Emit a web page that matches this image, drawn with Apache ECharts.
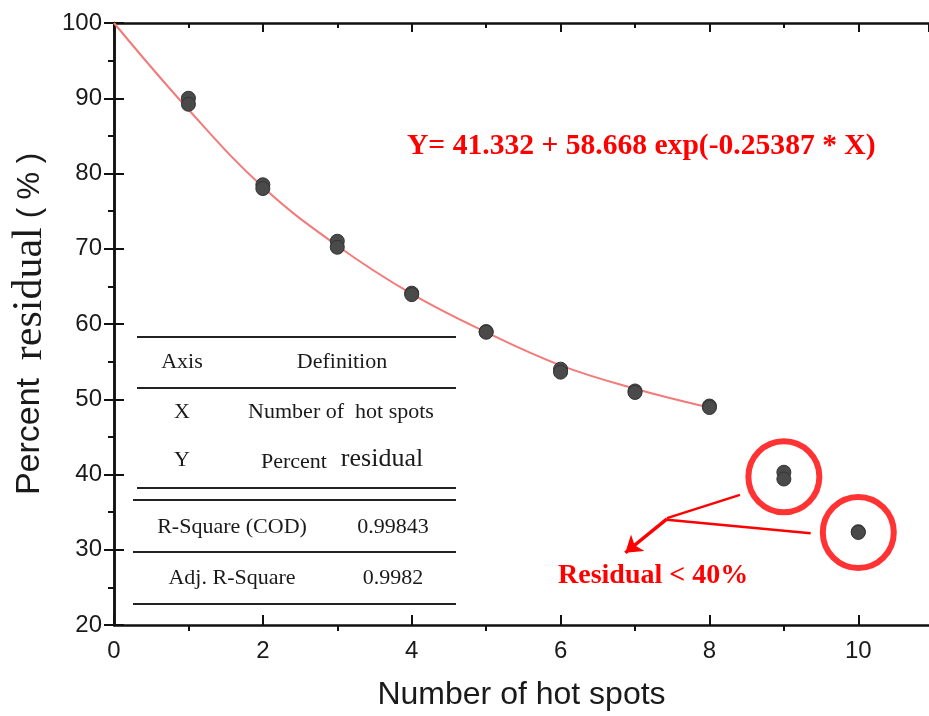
<!DOCTYPE html>
<html><head><meta charset="utf-8">
<script src="https://cdn.jsdelivr.net/npm/echarts@6/dist/echarts.min.js"></script>
<style>html,body{margin:0;padding:0;background:#fff}#c{width:929px;height:716px}</style>
</head><body><div id="c"></div>
<script>
// ---- data ----
const spotsX    = [1, 1, 2, 2, 3, 3, 4, 4, 5, 5, 6, 6, 7, 7, 8, 8, 9, 9, 10, 10];
const residualY = [90.0, 89.2, 78.5, 78.0, 71.0, 70.2, 64.1, 63.9, 59.0, 58.9, 54.0, 53.6, 51.1, 50.9, 49.1, 48.9, 40.3, 39.4, 32.4, 32.3];
const fitX      = [0, 1, 2, 3, 4, 5, 6, 7, 8];
const fitY      = [100, 88.5, 78.2, 70.4, 64.0, 58.9, 54.5, 51.4, 48.9];
const outlierX  = [9, 10];
const outlierY  = [39.7, 32.3];
const xMinorTicks = [1, 3, 5, 7, 9];
const yMinorTicks = [25, 35, 45, 55, 65, 75, 85, 95];
const equationText = 'Y= 41.332 + 58.668 exp(-0.25387 * X)';
const noteText = 'Residual < 40%';
const tableHeader = ['Axis', 'Definition'];
const tableDefs = [['X', 'Number of  hot spots'], ['Y', 'Percent', 'residual']];
const tableStats = [['R-Square (COD)', '0.99843'], ['Adj. R-Square', '0.9982']];

const SANS = '"Liberation Sans", Arial, sans-serif';
const SERIF = '"Liberation Serif", "Times New Roman", serif';
const INK = '#1a1a1a';

const pts = spotsX.map((x, i) => [x, residualY[i]]);
const fit = fitX.map((x, i) => [x, fitY[i]]);
const outl = outlierX.map((x, i) => [x, outlierY[i]]);

// table graphics (pixel layout)
const g = [];
function hline(y, x1, x2) {
  g.push({type: 'line', shape: {x1: x1, y1: y, x2: x2, y2: y}, style: {stroke: '#222', lineWidth: 2}, z: 10});
}
function txt(x, y, t, size, align) {
  g.push({type: 'text', x: x, y: y, style: {text: t, font: size + 'px ' + SERIF, fill: INK, align: align || 'center', verticalAlign: 'middle'}, z: 10});
}
hline(337, 137, 456);
hline(388, 137, 456);
hline(488, 137, 456);
hline(500, 133, 456);
hline(552, 133, 456);
hline(604, 133, 456);
txt(182, 362, tableHeader[0], 22);
txt(342, 362, tableHeader[1], 22);
txt(182, 412, tableDefs[0][0], 22);
txt(341, 412, tableDefs[0][1], 22);
txt(182, 460, tableDefs[1][0], 22);
txt(294, 462, tableDefs[1][1], 22);
txt(382, 459, tableDefs[1][2], 26);
txt(232, 527, tableStats[0][0], 22);
txt(393, 527, tableStats[0][1], 22);
txt(232, 578, tableStats[1][0], 22);
txt(393, 578, tableStats[1][1], 22);
g.push({type: 'text', x: 407, y: 146, style: {text: equationText, font: 'bold 29.6px ' + SERIF, fill: '#ff0000', align: 'left', verticalAlign: 'middle'}, z: 10});
g.push({type: 'text', x: 558, y: 576, style: {text: noteText, font: 'bold 28px ' + SERIF, fill: '#ff0000', align: 'left', verticalAlign: 'middle'}, z: 10});

const axisLine = {show: true, lineStyle: {color: '#111', width: 2.5}};
const XMAX = 10.95;
const chart = echarts.init(document.getElementById('c'));
chart.setOption({
  animation: false,
  backgroundColor: '#fff',
  grid: {left: 114, top: 23, width: 815, height: 602, containLabel: false},
  xAxis: [
    {type: 'value', position: 'bottom', min: 0, max: XMAX, interval: 2,
     axisLine: axisLine, splitLine: {show: false},
     axisTick: {inside: true, length: 10, lineStyle: {color: '#111', width: 2}},
     axisLabel: {show: true, showMaxLabel: false, margin: 14, fontSize: 24, fontFamily: SANS, color: INK},
     name: 'Number of hot spots', nameLocation: 'middle', nameGap: 54,
     nameTextStyle: {fontSize: 32, fontFamily: SANS, color: INK}},
    {type: 'value', position: 'bottom', min: 0, max: XMAX,
     axisLine: {show: false}, splitLine: {show: false}, axisLabel: {show: false},
     axisTick: {show: true, inside: false, length: 6, customValues: xMinorTicks, lineStyle: {color: '#111', width: 2}}},
    {type: 'value', position: 'top', min: 0, max: XMAX, interval: 2,
     axisLine: axisLine, splitLine: {show: false}, axisLabel: {show: false},
     axisTick: {inside: true, length: 9, lineStyle: {color: '#111', width: 2}},
     minorTick: {show: true, splitNumber: 2, length: 5, lineStyle: {color: '#111', width: 2}}}
  ],
  yAxis: [
    {type: 'value', position: 'left', min: 20, max: 100, interval: 10,
     axisLine: axisLine, splitLine: {show: false},
     axisTick: {inside: true, length: 10, lineStyle: {color: '#111', width: 2}},
     axisLabel: {margin: 12, fontSize: 24, fontFamily: SANS, color: INK},
     name: '{a|Percent}  {b|residual} {c|( % )}', nameLocation: 'middle', nameGap: 62,
     nameTextStyle: {fontSize: 32, fontFamily: SANS, color: INK,
       rich: {a: {fontSize: 34, fontFamily: SANS, color: INK},
              b: {fontSize: 42, fontFamily: SERIF, color: INK},
              c: {fontSize: 31, fontFamily: SANS, color: INK}}}},
    {type: 'value', position: 'left', min: 20, max: 100,
     axisLine: {show: false}, splitLine: {show: false}, axisLabel: {show: false},
     axisTick: {show: true, inside: false, length: 6, customValues: yMinorTicks, lineStyle: {color: '#111', width: 2}}},
    {type: 'value', position: 'right', min: 20, max: 100, interval: 10,
     axisLine: axisLine, splitLine: {show: false}, axisLabel: {show: false},
     axisTick: {inside: true, length: 10, lineStyle: {color: '#111', width: 2}},
     minorTick: {show: true, splitNumber: 2, length: 4, lineStyle: {color: '#111', width: 2}}}
  ],
  series: [
    {type: 'line', data: fit, smooth: 0.4, showSymbol: false, symbol: 'none',
     lineStyle: {color: '#f47a7a', width: 2}, z: 2},
    {type: 'scatter', data: pts, symbol: 'circle', symbolSize: 14,
     itemStyle: {color: '#4a4a4a', borderColor: '#333', borderWidth: 1, opacity: 1}, z: 3},
    {type: 'scatter', data: outl, symbol: 'circle', symbolSize: 71,
     itemStyle: {color: 'rgba(0,0,0,0)', borderColor: '#ff0000', borderWidth: 6}, z: 4,
     markLine: {silent: true, symbol: ['none', 'none'], label: {show: false},
       lineStyle: {color: '#ff0000', width: 2.5, type: 'solid'},
       data: [
         [{coord: [8.41, 37.3]}, {coord: [7.43, 34.2]}],
         [{coord: [9.36, 32.2]}, {coord: [7.43, 34.0]}],
         [{coord: [7.43, 34.1], symbol: 'none'}, {coord: [6.87, 29.6], symbol: 'arrow', symbolSize: 16,
           lineStyle: {width: 3.5}}]
       ]}}
  ],
  graphic: g
});
</script>
</body></html>
